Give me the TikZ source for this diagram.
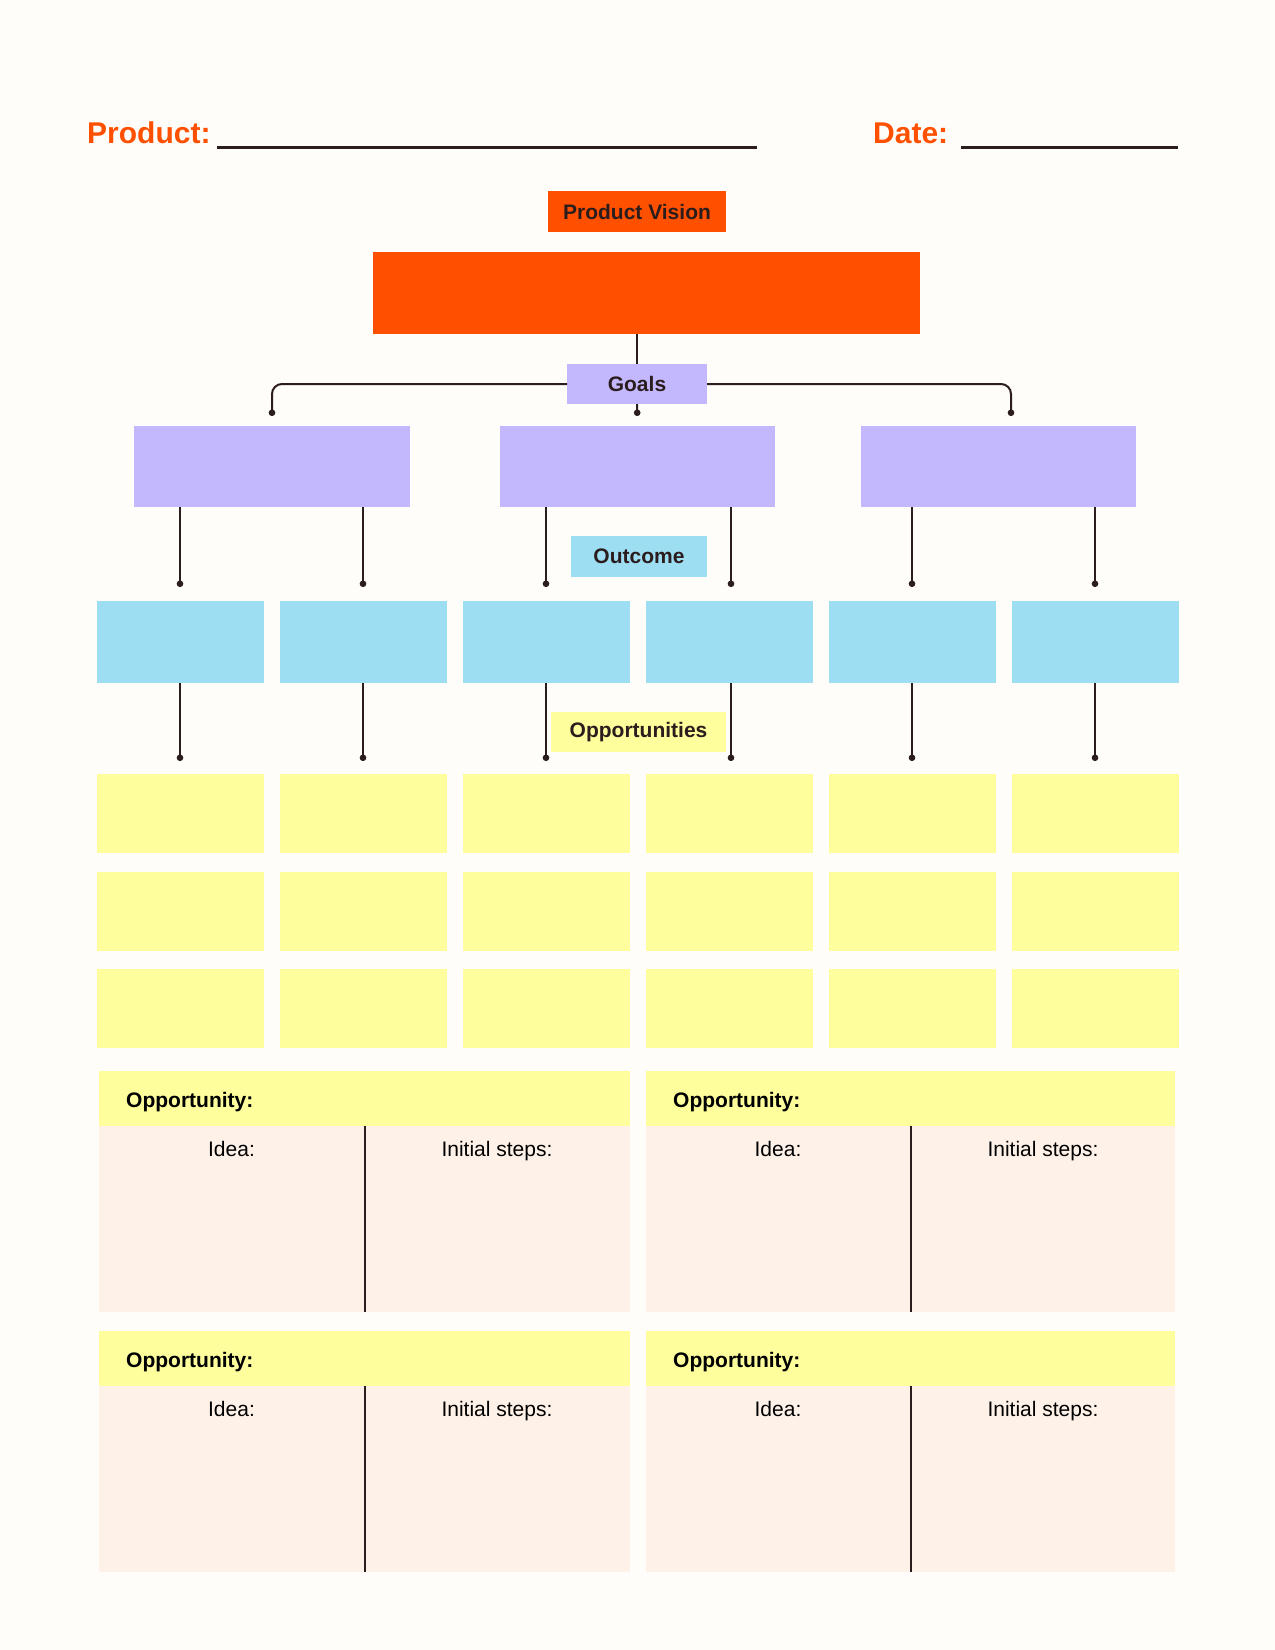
\documentclass[tikz,border=0pt]{standalone}
\usepackage{fontspec}
\setmainfont{Liberation Sans}
\usepackage{xcolor}
\usetikzlibrary{arrows.meta}

\definecolor{pagebg}{HTML}{FFFDF9}
\definecolor{visorange}{HTML}{FF5000}
\definecolor{goalpurple}{HTML}{C3B8FD}
\definecolor{outblue}{HTML}{9EDEF2}
\definecolor{oppyellow}{HTML}{FEFE9C}
\definecolor{notepeach}{HTML}{FEF2E8}
\definecolor{ink}{HTML}{2B1D1D}

\begin{document}
\begin{tikzpicture}[
  x=1pt, y=-1pt,
  card/.style={inner sep=0pt, outer sep=0pt, minimum height=#1},
  card/.default=81,
  tag/.style={inner sep=0pt, outer sep=0pt, minimum height=40, text=ink,
    font=\fontsize{21}{25}\selectfont\bfseries},
  title/.style={anchor=base west, inner sep=0pt, text=visorange,
    font=\fontsize{30}{36}\selectfont\bfseries},
  head/.style={anchor=base west, inner sep=0pt, font=\fontsize{21}{25}\selectfont\bfseries},
  field/.style={anchor=base, inner sep=0pt, font=\fontsize{21}{25}\selectfont},
  link/.style={draw=ink, line width=2pt},
  dot/.style={-{Circle[length=6.5pt, width=6.5pt]}, shorten >=#1},
  dot/.default=10
]
\useasboundingbox (0,0) rectangle (1275,1650);
\fill[pagebg] (0,0) rectangle (1275,1650);

% header fields
\node[title] (prod) at (87,143) {Product:};
\node[title] (date) at (873,143) {Date:};
\draw[ink, line width=2.5pt] (217,147.5) -- (757,147.5);
\draw[ink, line width=2.5pt] (961,147.5) -- (1178,147.5);

% vision and goals
\node[tag, fill=visorange, minimum width=178, minimum height=41] (vision) at (637,211.5) {Product Vision};
\node[card=82, fill=visorange, minimum width=547] (vbox) at (646.5,293) {};
\node[tag, fill=goalpurple, minimum width=140] (goals) at (637,384) {Goals};
\node[card, fill=goalpurple, minimum width=276] (goalA) at (272,466.5) {};
\node[card, fill=goalpurple, minimum width=275] (goalB) at (637.5,466.5) {};
\node[card, fill=goalpurple, minimum width=275] (goalC) at (998.5,466.5) {};

% outcomes
\node[tag, fill=outblue, minimum width=136, minimum height=41] (outcome) at (639,556.5) {Outcome};
\node[card=82, fill=outblue, minimum width=167] (outA) at (180,642) {};
\node[card=82, fill=outblue, minimum width=167] (outB) at (363,642) {};
\node[card=82, fill=outblue, minimum width=167] (outC) at (546,642) {};
\node[card=82, fill=outblue, minimum width=167] (outD) at (729,642) {};
\node[card=82, fill=outblue, minimum width=167] (outE) at (912,642) {};
\node[card=82, fill=outblue, minimum width=167] (outF) at (1095,642) {};

% opportunities
\node[tag, fill=oppyellow, minimum width=175] (opps) at (638.5,732) {Opportunities};
\node[card=79, fill=oppyellow, minimum width=167] (oppA1) at (180,813.5) {};
\node[card=79, fill=oppyellow, minimum width=167] (oppB1) at (363,813.5) {};
\node[card=79, fill=oppyellow, minimum width=167] (oppC1) at (546,813.5) {};
\node[card=79, fill=oppyellow, minimum width=167] (oppD1) at (729,813.5) {};
\node[card=79, fill=oppyellow, minimum width=167] (oppE1) at (912,813.5) {};
\node[card=79, fill=oppyellow, minimum width=167] (oppF1) at (1095,813.5) {};
\node[card=79, fill=oppyellow, minimum width=167] (oppA2) at (180,911) {};
\node[card=79, fill=oppyellow, minimum width=167] (oppB2) at (363,911) {};
\node[card=79, fill=oppyellow, minimum width=167] (oppC2) at (546,911) {};
\node[card=79, fill=oppyellow, minimum width=167] (oppD2) at (729,911) {};
\node[card=79, fill=oppyellow, minimum width=167] (oppE2) at (912,911) {};
\node[card=79, fill=oppyellow, minimum width=167] (oppF2) at (1095,911) {};
\node[card=79, fill=oppyellow, minimum width=167] (oppA3) at (180,1008.5) {};
\node[card=79, fill=oppyellow, minimum width=167] (oppB3) at (363,1008.5) {};
\node[card=79, fill=oppyellow, minimum width=167] (oppC3) at (546,1008.5) {};
\node[card=79, fill=oppyellow, minimum width=167] (oppD3) at (729,1008.5) {};
\node[card=79, fill=oppyellow, minimum width=167] (oppE3) at (912,1008.5) {};
\node[card=79, fill=oppyellow, minimum width=167] (oppF3) at (1095,1008.5) {};

% connectors
\draw[link] (vbox.south -| goals) -- (goals.north);
\draw[link, dot, rounded corners=10] (goals.west) -| (goalA.north);
\draw[link, dot] (goals.south) -- (goalB.north);
\draw[link, dot, rounded corners=10] (goals.east) -| ([xshift=12.5]goalC.north);
\draw[link, dot=14] (goalA.south -| outA) -- (outA.north);
\draw[link, dot=14] (goalA.south -| outB) -- (outB.north);
\draw[link, dot=14] (goalB.south -| outC) -- (outC.north);
\draw[link, dot=14] ([xshift=2]goalB.south -| outD) -- ([xshift=2]outD.north);
\draw[link, dot=14] (goalC.south -| outE) -- (outE.north);
\draw[link, dot=14] (goalC.south -| outF) -- (outF.north);
\draw[link, dot=13] (outA.south) -- (oppA1.north);
\draw[link, dot=13] (outB.south) -- (oppB1.north);
\draw[link, dot=13] (outC.south) -- (oppC1.north);
\draw[link, dot=13] ([xshift=2]outD.south) -- ([xshift=2]oppD1.north);
\draw[link, dot=13] (outE.south) -- (oppE1.north);
\draw[link, dot=13] (outF.south) -- (oppF1.north);

% opportunity notes
\node[card=55, fill=oppyellow, minimum width=531] (noteA) at (364.5,1098.5) {};
\node[card=186, fill=notepeach, minimum width=531] (bodyA) at (364.5,1219) {};
\node[card=55, fill=oppyellow, minimum width=529] (noteB) at (910.5,1098.5) {};
\node[card=186, fill=notepeach, minimum width=529] (bodyB) at (910.5,1219) {};
\node[card=55, fill=oppyellow, minimum width=531] (noteC) at (364.5,1358.5) {};
\node[card=186, fill=notepeach, minimum width=531] (bodyC) at (364.5,1479) {};
\node[card=55, fill=oppyellow, minimum width=529] (noteD) at (910.5,1358.5) {};
\node[card=186, fill=notepeach, minimum width=529] (bodyD) at (910.5,1479) {};
\draw[link] (bodyA.north) -- (bodyA.south);
\draw[link] (bodyB.north) -- (bodyB.south);
\draw[link] (bodyC.north) -- (bodyC.south);
\draw[link] (bodyD.north) -- (bodyD.south);

\node[head] (oppTxtA) at (126,1107) {Opportunity:};
\node[head] (oppTxtB) at (673,1107) {Opportunity:};
\node[head] (oppTxtC) at (126,1367) {Opportunity:};
\node[head] (oppTxtD) at (673,1367) {Opportunity:};
\node[field] (ideaA) at (231.5,1156) {Idea:};
\node[field] (stepsA) at (497,1156) {Initial steps:};
\node[field] (ideaB) at (778,1156) {Idea:};
\node[field] (stepsB) at (1043,1156) {Initial steps:};
\node[field] (ideaC) at (231.5,1416) {Idea:};
\node[field] (stepsC) at (497,1416) {Initial steps:};
\node[field] (ideaD) at (778,1416) {Idea:};
\node[field] (stepsD) at (1043,1416) {Initial steps:};
\end{tikzpicture}
\end{document}
